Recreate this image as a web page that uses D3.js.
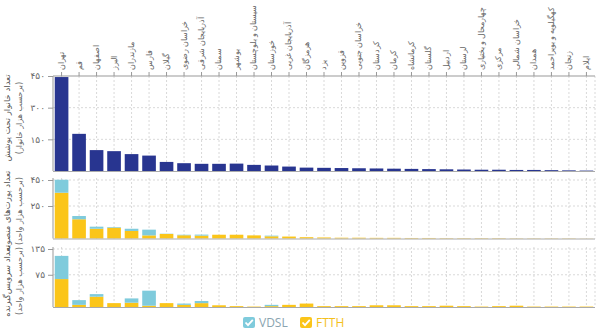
<!DOCTYPE html>
<html><head><meta charset="utf-8">
<script src="https://cdn.jsdelivr.net/npm/d3@7/dist/d3.min.js"></script>
<style>
html,body{margin:0;padding:0;background:#fff;}
svg{display:block;font-family:"DejaVu Sans","Noto Sans",sans-serif;}
</style></head>
<body>
<svg id="chart" width="600" height="335"></svg>
<script>
const provinces = ["تهران","قم","اصفهان","البرز","مازندران","فارس","گیلان","خراسان رضوی","آذربایجان شرقی","سمنان","بوشهر","سیستان و بلوچستان","خوزستان","آذربایجان غربی","هرمزگان","یزد","قزوین","خراسان جنوبی","کردستان","کرمان","کرمانشاه","گلستان","اردبیل","لرستان","چهارمحال و بختیاری","مرکزی","خراسان شمالی","همدان","کهگیلویه و بویراحمد","زنجان","ایلام"];
const households = [445,176,99,94,80,73,43,37,34,34,35,29,26,21,16,15,14,13,12,11,10,9,8,7,6,6,5,5,4,3,2];
const portsFTTH = [352,148,75,83,58,24,35,25,22,29,29,24,17,15,10,8,6,6,5,5,4,4,3,3,3,3,2,2,2,2,1];
const portsVDSL = [100,25,16,5,17,44,2,4,8,0,0,0,5,0,0,0,0,0,0,0,0,0,0,0,0,0,0,0,0,0,0];
const subsFTTH = [65,5,24,9,10,3,9,5,9,4,2,1,2,5,8,2,2,2,4,4,2,2,3,2,1,2,3,1,1,1,1];
const subsVDSL = [54,11,6,0,10,35,0,3,5,0,0,0,3,0,0,0,0,0,0,0,0,0,0,0,0,0,0,0,0,0,0];
const ticksHouseholds = [150,300,450];
const tickLabelsHouseholds = ["۱۵۰","۳۰۰","۴۵۰"];
const ticksPorts = [250,450];
const tickLabelsPorts = ["۲۵۰","۴۵۰"];
const ticksSubs = [75,135];
const tickLabelsSubs = ["۷۵","۱۳۵"];
const seriesNames = ["VDSL","FTTH"];

const C_NAVY = "#283590", C_VDSL = "#7fcbdc", C_FTTH = "#fbc519";
const svg = d3.select("#chart");
const x0 = 53, x1 = 595;
const x = d3.scaleBand().domain(provinces).range([x0, x1]).paddingInner(0.22).paddingOuter(0.1);

const panels = [
  {top:76, base:171, max:450, ticks:ticksHouseholds, labels:tickLabelsHouseholds},
  {top:180, base:238.5, max:450, ticks:ticksPorts, labels:tickLabelsPorts},
  {top:249, base:307, max:135, ticks:ticksSubs, labels:tickLabelsSubs}
];
panels.forEach(p => { p.y = d3.scaleLinear().domain([0, p.max]).range([p.base, p.top]); });

// grids
panels.forEach((p,i) => {
  const g = svg.append("g");
  const gridTop = i===0 ? p.top : p.top-2;
  g.selectAll("line.v").data(provinces).join("line")
    .attr("x1", d => x(d)+x.bandwidth()/2).attr("x2", d => x(d)+x.bandwidth()/2)
    .attr("y1", gridTop).attr("y2", p.base)
    .attr("stroke","#cfcfcf").attr("stroke-width",0.8).attr("stroke-dasharray","2,2");
  g.append("line").attr("x1",x1).attr("x2",x1).attr("y1",gridTop).attr("y2",p.base)
    .attr("stroke","#cfcfcf").attr("stroke-width",0.8).attr("stroke-dasharray","2,2");
  g.selectAll("line.h").data(p.ticks.filter(t => !(i===0 && t===p.max))).join("line")
    .attr("x1",x0).attr("x2",x1).attr("y1",d=>p.y(d)).attr("y2",d=>p.y(d))
    .attr("stroke","#cfcfcf").attr("stroke-width",0.8).attr("stroke-dasharray","2,2");
});

// top panel bars
svg.append("g").selectAll("rect").data(provinces).join("rect")
  .attr("x", d => x(d)).attr("width", x.bandwidth())
  .attr("y", (d,i) => panels[0].y(households[i]))
  .attr("height", (d,i) => panels[0].base - panels[0].y(households[i]))
  .attr("fill", C_NAVY);

function stacked(p, ftth, vdsl){
  const g = svg.append("g");
  g.selectAll("rect.f").data(provinces).join("rect")
    .attr("x", d => x(d)).attr("width", x.bandwidth())
    .attr("y", (d,i) => p.y(ftth[i]))
    .attr("height", (d,i) => p.base - p.y(ftth[i]))
    .attr("fill", C_FTTH);
  g.selectAll("rect.v").data(provinces).join("rect")
    .attr("x", d => x(d)).attr("width", x.bandwidth())
    .attr("y", (d,i) => p.y(ftth[i]+vdsl[i]))
    .attr("height", (d,i) => p.y(ftth[i]) - p.y(ftth[i]+vdsl[i]))
    .attr("fill", C_VDSL);
  g.append("line").attr("x1",x0).attr("x2",x1).attr("y1",p.base+0.5).attr("y2",p.base+0.5)
    .attr("stroke","#aaa").attr("stroke-width",1);
}
stacked(panels[1], portsFTTH, portsVDSL);
stacked(panels[2], subsFTTH, subsVDSL);
svg.append("line").attr("x1",x0).attr("x2",x1).attr("y1",panels[0].base+0.5).attr("y2",panels[0].base+0.5)
  .attr("stroke","#aaa").attr("stroke-width",1);

// y axes
panels.forEach((p,i) => {
  const ax = d3.axisLeft(p.y).tickValues(p.ticks).tickSize(5).tickPadding(3)
    .tickFormat((d,j) => p.labels[j]);
  const g = svg.append("g").attr("transform",`translate(${x0},0)`).call(ax);
  g.select(".domain").attr("stroke","#999").attr("d", `M0,${i===0?p.top:p.top-2}V${p.base}`);
  g.selectAll(".tick line").attr("stroke","#999");
  g.selectAll(".tick text").attr("fill","#666").style("font-size","9px").style("font-family","'DejaVu Sans',sans-serif");
});

// top x axis
const xa = d3.axisTop(x).tickSize(4).tickPadding(3);
const gx = svg.append("g").attr("transform",`translate(0,${panels[0].top})`).call(xa);
gx.select(".domain").attr("stroke","#999").attr("d",`M${x0},0H${x1}`);
gx.selectAll(".tick line").attr("stroke","#999");
gx.selectAll(".tick text").attr("fill","#666").style("font-size","7.7px")
  .attr("transform","rotate(-90)").attr("text-anchor","start").attr("dy","0.32em").attr("x",6).attr("y",0);

// left titles
const titles = [
  {cy:118, a:"تعداد خانوار تحت پوشش", b:"(برحسب هزار خانوار)"},
  {cy:211, a:"تعداد پورت‌های منصوبه", b:"(برحسب هزار واحد)"},
  {cy:281, a:"تعداد سرویس‌گیرنده", b:"(برحسب هزار واحد)"}
];
titles.forEach(t => {
  svg.append("text").attr("transform",`translate(10,${t.cy}) rotate(-90)`).attr("text-anchor","middle")
    .attr("fill","#555").style("font-size","8.5px").text(t.a);
  svg.append("text").attr("transform",`translate(22,${t.cy}) rotate(-90)`).attr("text-anchor","middle")
    .attr("fill","#666").style("font-size","8px").text(t.b);
});

// legend
const lg = svg.append("g");
const legendColors = [C_VDSL, C_FTTH];
const legendText = ["#8aa4b0", "#f4c01c"];
const lx = [243, 300];
seriesNames.forEach((s,i) => {
  const g = lg.append("g").attr("transform",`translate(${lx[i]},317)`);
  g.append("rect").attr("width",12).attr("height",11).attr("rx",2).attr("fill",legendColors[i]);
  g.append("path").attr("d","M2.5,5.5 L5,8.2 L9.8,2.8").attr("fill","none").attr("stroke","#fff").attr("stroke-width",1.8);
  g.append("text").attr("x",16).attr("y",10).attr("fill",legendText[i])
    .style("font-size","12px").style("font-family","'Open Sans',sans-serif").text(s);
});
</script>
</body></html>
